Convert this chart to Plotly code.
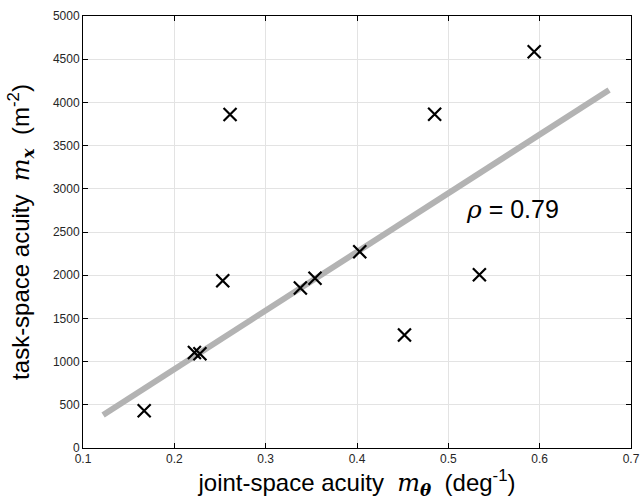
import plotly.graph_objects as go

# Data
joint_acuity = [0.167, 0.222, 0.228, 0.253, 0.261, 0.338, 0.354, 0.403, 0.452, 0.485, 0.534, 0.594]
task_acuity = [432, 1105, 1090, 1936, 3860, 1852, 1964, 2272, 1308, 3862, 2005, 4587]

fit_x = [0.122, 0.676]
fit_y = [382, 4144]

x_ticks = [0.1, 0.2, 0.3, 0.4, 0.5, 0.6, 0.7]
y_ticks = [0, 500, 1000, 1500, 2000, 2500, 3000, 3500, 4000, 4500, 5000]

rho_text = "0.79"

MATH = "font-family:'DejaVu Serif','Liberation Serif',serif;font-style:italic"
SANS = "Liberation Sans, Arial, sans-serif"

fig = go.Figure()

fig.add_trace(go.Scatter(
    x=fit_x, y=fit_y, mode="lines",
    line=dict(color="#b3b3b3", width=6),
    hoverinfo="skip", showlegend=False,
))

fig.add_trace(go.Scatter(
    x=joint_acuity, y=task_acuity, mode="markers",
    marker=dict(symbol="x-thin", size=13, line=dict(color="black", width=2.2)),
    showlegend=False,
))

fig.add_annotation(
    x=0.570, y=2755, xref="x", yref="y",
    text=f"<span style=\"{MATH}\">ρ</span> = {rho_text}",
    showarrow=False,
    font=dict(size=25, color="black", family=SANS),
)

axis_common = dict(
    showline=True, linecolor="black", linewidth=1, mirror="ticks",
    ticks="inside", ticklen=5, tickcolor="black", tickwidth=1,
    showgrid=True, gridcolor="#e3e3e3", gridwidth=1,
    zeroline=False, automargin=False,
    tickfont=dict(size=12, color="#262626", family=SANS),
)

fig.update_xaxes(
    range=[0.1, 0.7], tickvals=x_ticks, ticktext=[f"{v:.1f}" for v in x_ticks],
    title=dict(
        text=f"joint-space acuity  <span style=\"{MATH}\">m</span><sub><b><span style=\"{MATH}\">θ</span></b></sub>  (deg<sup>-1</sup>)",
        font=dict(size=24, color="black", family=SANS),
        standoff=4,
    ),
    **axis_common,
)
fig.update_yaxes(
    range=[0, 5000], tickvals=y_ticks, ticktext=[str(v) for v in y_ticks],
    title=dict(
        text=f"task-space acuity  <span style=\"{MATH}\">m</span><sub><b><span style=\"{MATH}\">x</span></b></sub>  (m<sup>-2</sup>)",
        font=dict(size=24, color="black", family=SANS),
        standoff=16,
    ),
    **axis_common,
)

fig.update_layout(
    width=644, height=500,
    margin=dict(l=83, r=13, t=16, b=52),
    plot_bgcolor="white", paper_bgcolor="white",
    showlegend=False,
)

fig.write_html("out.html", config={"displayModeBar": False},
               post_script="document.body.style.margin='0';")
